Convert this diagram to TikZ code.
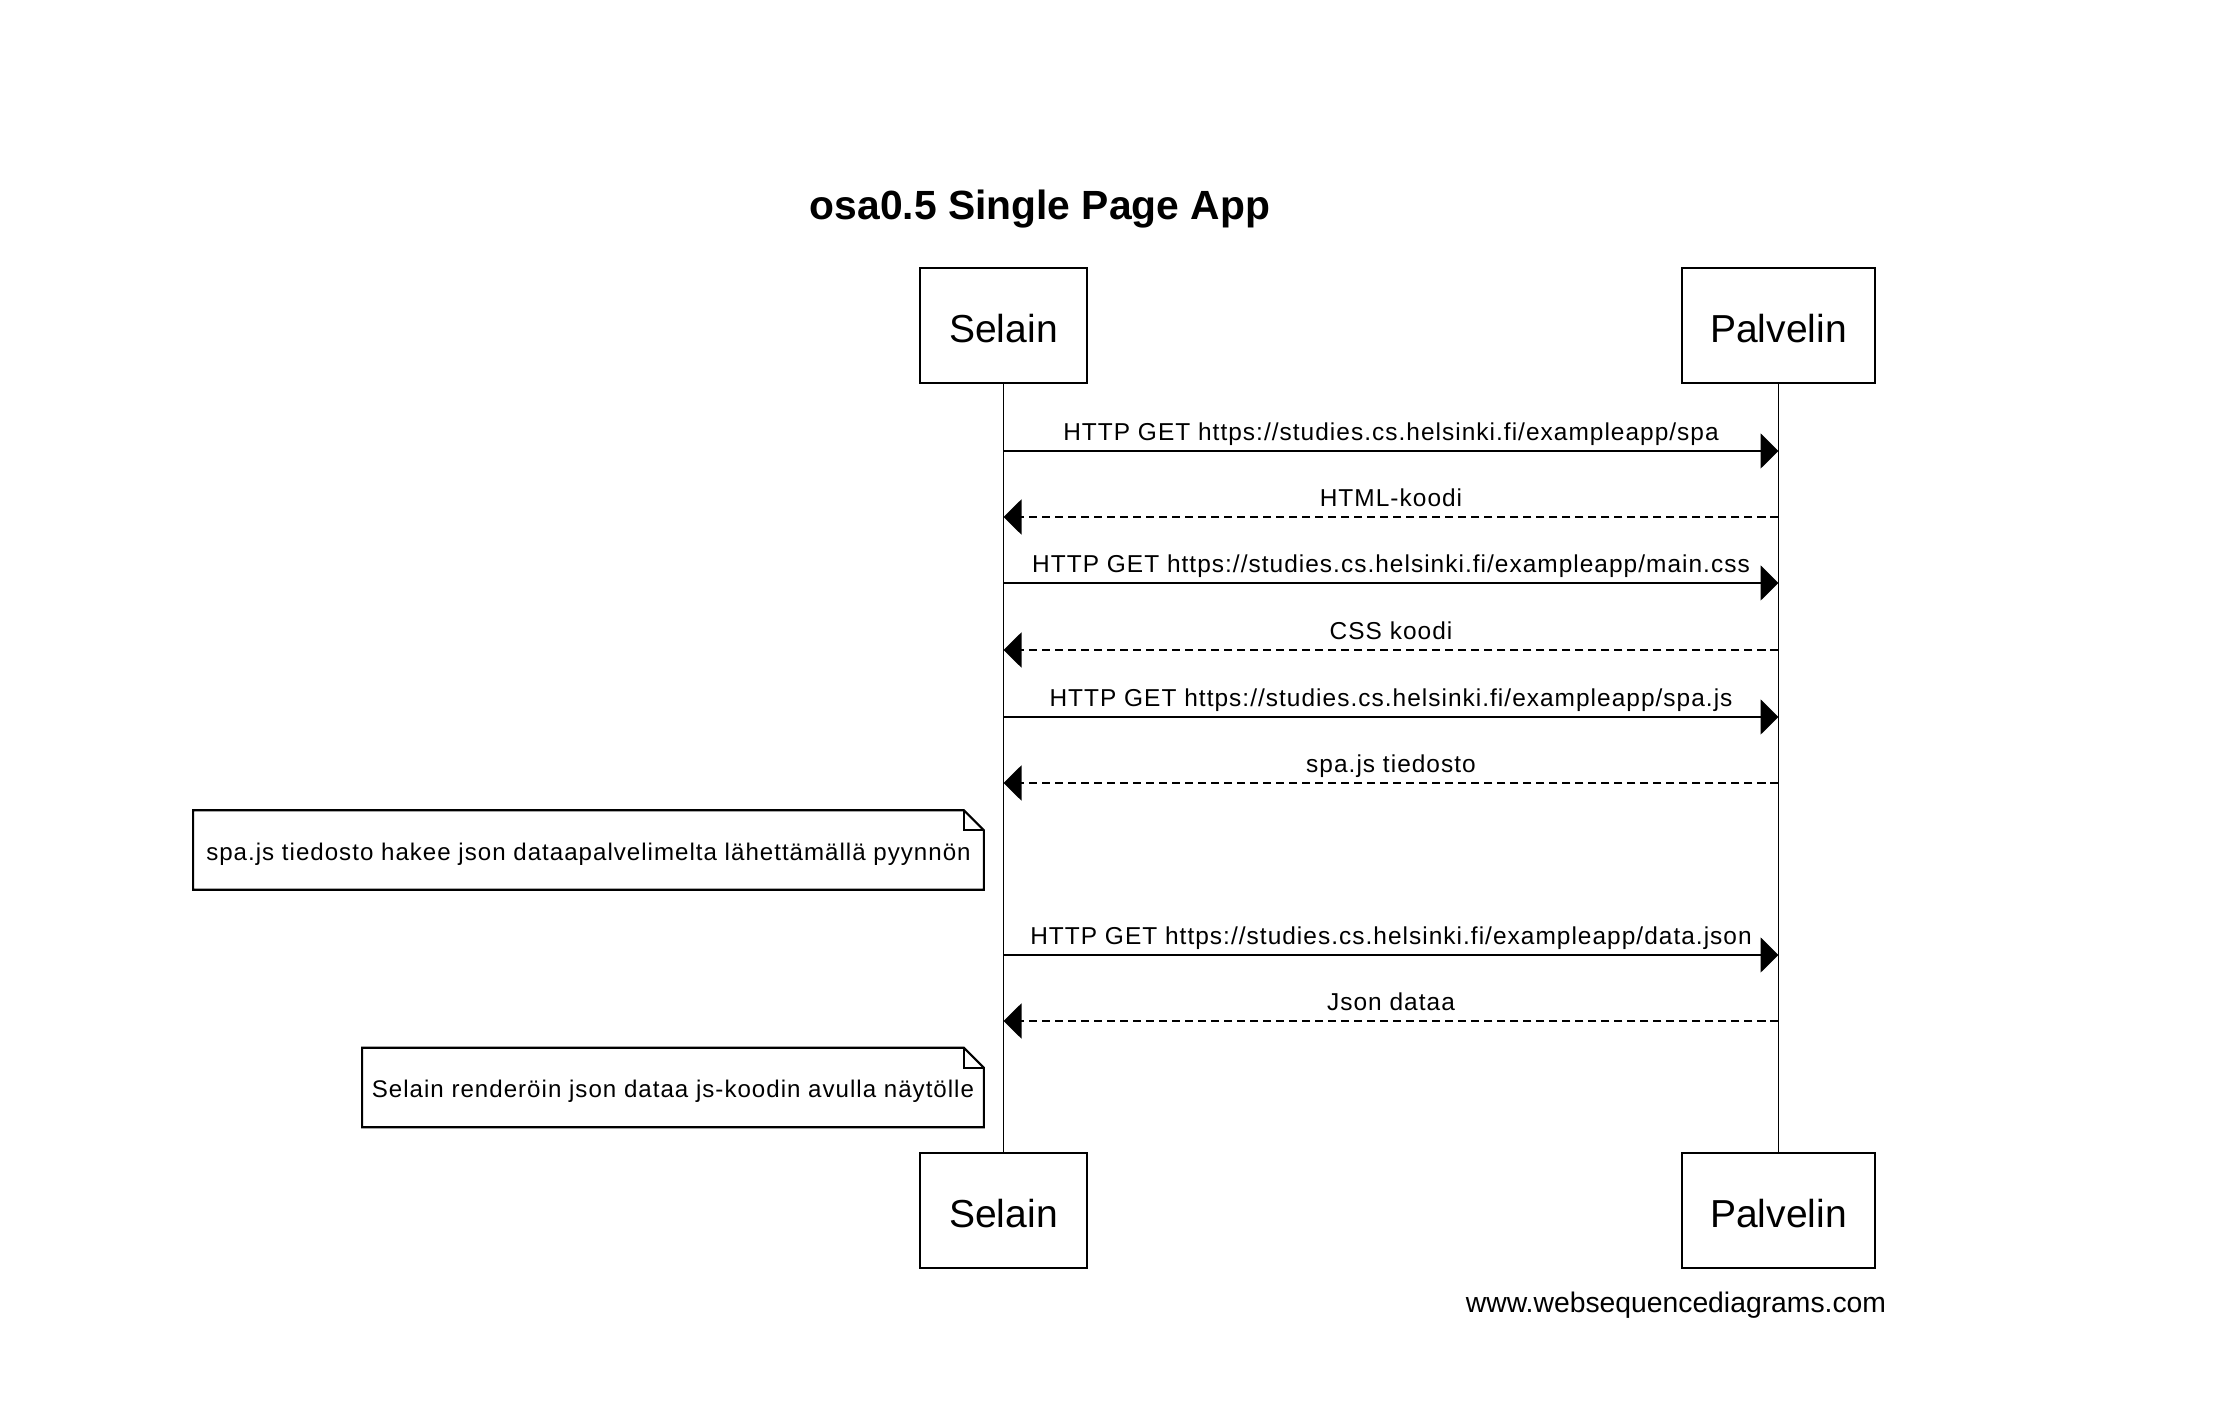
\documentclass[tikz,border=0pt]{standalone}
\usepackage{fontspec}
\setmainfont{Liberation Sans}
\newfontfamily\msgfont[LetterSpace=4.2]{Liberation Sans}
\usetikzlibrary{arrows.meta}

\begin{document}
\begin{tikzpicture}[x=0.01cm, y=-0.01cm,
  actor/.style={draw, line width=0.6pt, minimum height=1.15cm, text height=9.8pt, text depth=0pt, font=\fontsize{11.1}{13}\selectfont},
  life/.style={line width=0.5pt},
  msg/.style={line width=0.6pt, -{Triangle[length=0.18cm, width=0.35cm]}},
  reply/.style={msg, dash pattern=on 2.3pt off 1.4pt},
  msgtext/.style={anchor=base, yshift=3.1pt, inner sep=0pt, font=\msgfont\fontsize{6.95}{8}\selectfont},
  note/.style={minimum height=0.78cm, inner sep=0pt, text height=7.4pt, text depth=1.5pt, font=\msgfont\fontsize{6.85}{8}\selectfont},
  fold/.style={line width=0.6pt}]
\useasboundingbox (0,0) rectangle (2226,1422);

\node[anchor=base, font=\bfseries\fontsize{11.6}{14}\selectfont] (title) at (1040,220) {osa0.5 Single Page App};

\node[actor, minimum width=1.67cm] (selainTop) at (1003.5,325.5) {Selain};
\node[actor, minimum width=1.93cm] (palvelinTop) at (1778.5,325.5) {Palvelin};
\node[actor, minimum width=1.67cm] (selainBot) at (1003.5,1210.5) {Selain};
\node[actor, minimum width=1.93cm] (palvelinBot) at (1778.5,1210.5) {Palvelin};

\draw[life] (selainTop) -- (selainBot);
\draw[life] (palvelinTop) -- (palvelinBot);

\foreach \y [count=\i] in {451,517,583,650,717,783,955,1021} {
  \coordinate (s\i) at (selainTop |- 0,\y);
  \coordinate (p\i) at (palvelinTop |- 0,\y);
}

\draw[msg] (s1) -- node[msgtext] {HTTP GET https://studies.cs.helsinki.fi/exampleapp/spa} (p1);
\draw[reply] (p2) -- node[msgtext] {HTML-koodi} (s2);
\draw[msg] (s3) -- node[msgtext] {HTTP GET https://studies.cs.helsinki.fi/exampleapp/main.css} (p3);
\draw[reply] (p4) -- node[msgtext] {CSS koodi} (s4);
\draw[msg] (s5) -- node[msgtext] {HTTP GET https://studies.cs.helsinki.fi/exampleapp/spa.js} (p5);
\draw[reply] (p6) -- node[msgtext] {spa.js tiedosto} (s6);

\node[note, minimum width=7.89cm] (note1) at (588.5,850) {spa.js tiedosto hakee json dataapalvelimelta lähettämällä pyynnön};
\draw[fold] (note1.north west) -- ([xshift=-0.2cm]note1.north east) -- ([yshift=-0.2cm]note1.north east) -- (note1.south east) -- (note1.south west) -- cycle;
\draw[fold] ([xshift=-0.2cm]note1.north east) |- ([yshift=-0.2cm]note1.north east);

\draw[msg] (s7) -- node[msgtext] {HTTP GET https://studies.cs.helsinki.fi/exampleapp/data.json} (p7);
\draw[reply] (p8) -- node[msgtext] {Json dataa} (s8);

\node[note, minimum width=6.2cm] (note2) at (673,1087.5) {Selain renderöin json dataa js-koodin avulla näytölle};
\draw[fold] (note2.north west) -- ([xshift=-0.2cm]note2.north east) -- ([yshift=-0.2cm]note2.north east) -- (note2.south east) -- (note2.south west) -- cycle;
\draw[fold] ([xshift=-0.2cm]note2.north east) |- ([yshift=-0.2cm]note2.north east);

\node[anchor=base, font=\fontsize{8.05}{10}\selectfont] (footer) at (1676,1313) {www.websequencediagrams.com};
\end{tikzpicture}
\end{document}
